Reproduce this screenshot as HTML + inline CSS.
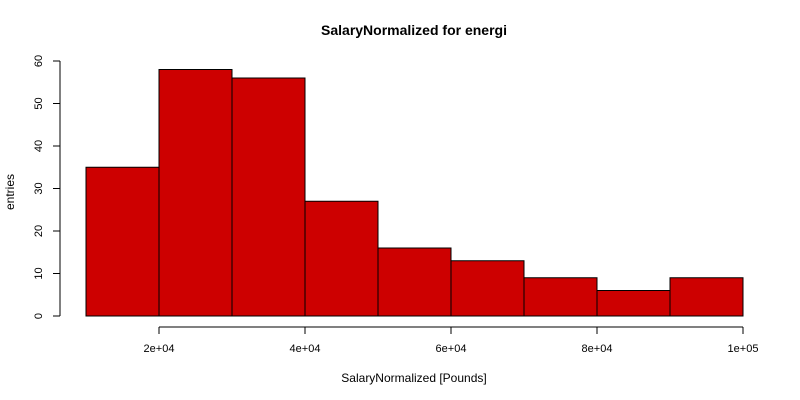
<!DOCTYPE html>
<html><head><meta charset="utf-8"><style>
body{margin:0;background:#fff}
svg{display:block;font-family:"Liberation Sans",sans-serif}
</style></head><body>
<svg id="c" width="800" height="400">
<text x="414" y="35" text-anchor="middle" font-weight="bold" font-size="14">SalaryNormalized for energi</text>
<text x="414" y="382" text-anchor="middle" font-size="12">SalaryNormalized [Pounds]</text>
<text transform="translate(14,192) rotate(-90)" text-anchor="middle" font-size="12">entries</text>
<g id="bars"></g><g id="axes"></g>
</svg>
<script>
const binEdges=[10000,20000,30000,40000,50000,60000,70000,80000,90000,100000];
const counts=[35,58,56,27,16,13,9,6,9];
const xTicks=[20000,40000,60000,80000,100000];
const xTickLabels=["2e+04","4e+04","6e+04","8e+04","1e+05"];
const yTicks=[0,10,20,30,40,50,60];
const NS="http://www.w3.org/2000/svg";
const X=v=>159+(v-20000)*(743-159)/80000;
const Y=v=>316-v*(316-61)/60;
function mk(t,a,p){const e=document.createElementNS(NS,t);for(const k in a)e.setAttribute(k,a[k]);p.appendChild(e);return e;}
const bars=document.getElementById('bars'),axes=document.getElementById('axes');
counts.forEach((c,i)=>{
 const r=mk('rect',{x:X(binEdges[i]),y:Y(c),width:X(binEdges[i+1])-X(binEdges[i]),height:Y(0)-Y(c),fill:'#cd0000',stroke:'#000','stroke-width':1},bars);
 
 
});
const xl=mk('line',{x1:X(xTicks[0]),x2:X(xTicks[xTicks.length-1]),y1:327,y2:327,stroke:'#000'},axes);


xTicks.forEach((t,i)=>{
 mk('line',{x1:X(t),x2:X(t),y1:327,y2:334,stroke:'#000'},axes);
 const tx=mk('text',{x:X(t),y:352,'text-anchor':'middle','font-size':11},axes);tx.textContent=xTickLabels[i];
 
 
});
const yl=mk('line',{x1:60,x2:60,y1:Y(0),y2:Y(60),stroke:'#000'},axes);


yTicks.forEach(t=>{
 mk('line',{x1:53,x2:60,y1:Y(t),y2:Y(t),stroke:'#000'},axes);
 const tx=mk('text',{transform:`translate(42,${Y(t)}) rotate(-90)`,'text-anchor':'middle','font-size':11},axes);tx.textContent=t;
 
 
});
</script>
</body></html>
